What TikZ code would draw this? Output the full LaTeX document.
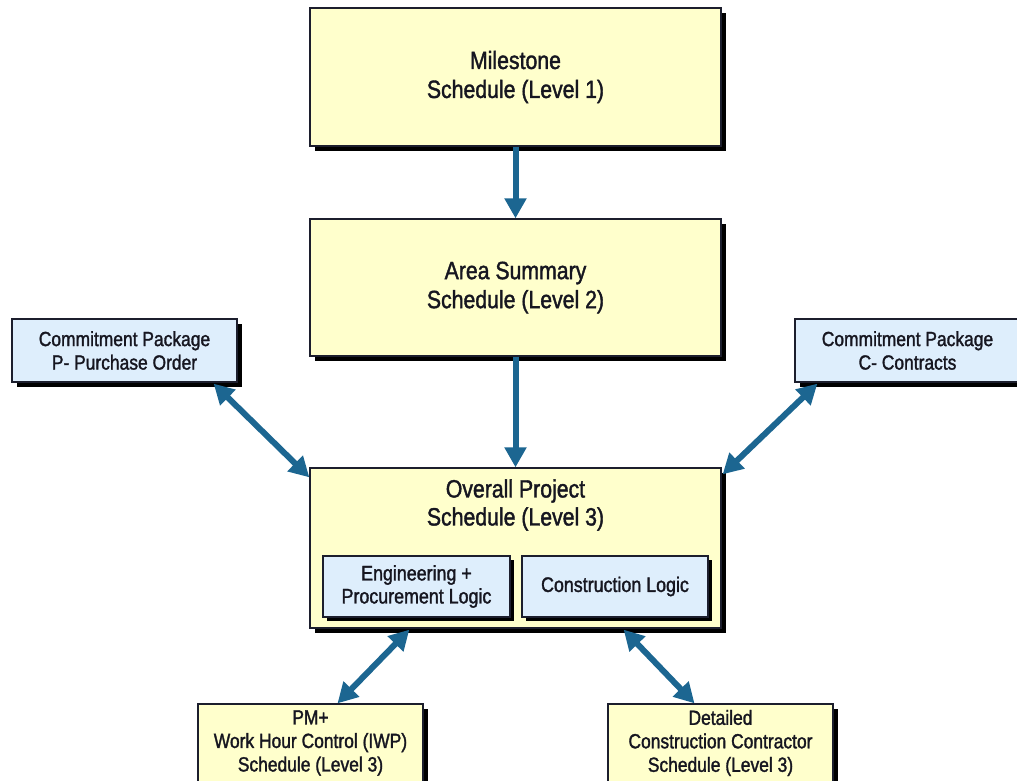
\documentclass[tikz,border=0pt]{standalone}
\usepackage{fontspec}
\setmainfont{Liberation Sans}[FakeStretch=0.85,FakeBold=1.5]
\usetikzlibrary{arrows.meta,calc}

\definecolor{boxyellow}{RGB}{255,255,204}
\definecolor{boxblue}{RGB}{222,238,252}
\definecolor{edgeline}{RGB}{28,30,45}
\definecolor{flowblue}{RGB}{28,102,145}
\definecolor{ink}{RGB}{22,22,32}

\tikzset{
  shadowed/.style={preaction={fill=black,transform canvas={xshift=#1,yshift=-#1}}},
  box/.style={draw=edgeline, line width=1.3pt, align=center, text=ink, inner sep=0pt},
  bigbox/.style={box, shadowed=5pt, fill=boxyellow, minimum width=411pt,
    font=\fontsize{25}{29}\selectfont},
  titletext/.style={align=center, text=ink, inner sep=0pt, font=\fontsize{25}{28}\selectfont},
  logicbox/.style={box, shadowed=4pt, fill=boxblue, minimum width=187pt, minimum height=61pt,
    font=\fontsize{21}{23}\selectfont},
  pkgbox/.style={box, shadowed=5pt, fill=boxblue, minimum width=225pt, minimum height=63pt,
    font=\fontsize{20.5}{23.5}\selectfont},
  lowbox/.style={box, shadowed=5pt, fill=boxyellow, minimum width=225pt, minimum height=78pt,
    font=\fontsize{20.5}{23.5}\selectfont},
  flow/.style={draw=flowblue, line width=6pt, -{Triangle[length=20pt,width=21pt]}},
  twoway/.style={draw=flowblue, line width=6pt,
    {Triangle[length=20pt,width=21pt]}-{Triangle[length=20pt,width=21pt]}}
}

\begin{document}
\begin{tikzpicture}[x=1pt,y=-1pt]
  \useasboundingbox (0,0) rectangle (1017,781);

  % schedule hierarchy
  \node[bigbox, minimum height=138pt] (M) at (515.5,77) {Milestone\\Schedule (Level 1)};
  \node[bigbox, minimum height=137pt] (A) at (515.5,287.5) {Area Summary\\Schedule (Level 2)};
  \node[bigbox, minimum height=160pt] (O) at (515.5,548) {};
  \node[titletext] (Ot) at (515.5,505) {Overall Project\\Schedule (Level 3)};

  % logic boxes inside the level 3 schedule
  \node[logicbox] (E) at (416.5,586.5) {Engineering +\\Procurement Logic};
  \node[logicbox, minimum width=186pt] (CL) at (615,586.5) {Construction Logic};

  % commitment packages
  \node[pkgbox] (P) at (124.5,350.5) {Commitment Package\\P- Purchase Order};
  \node[pkgbox] (C) at (907.5,350.5) {Commitment Package\\C- Contracts};

  % lower level 3 schedules
  \node[lowbox] (PM) at (310.5,743) {PM+\\Work Hour Control (IWP)\\Schedule (Level 3)};
  \node[lowbox] (D) at (720.5,743) {Detailed\\Construction Contractor\\Schedule (Level 3)};

  % connectors
  \draw[flow] (M.south) -- (A.north);
  \draw[flow] (A.south) -- (O.north);
  \draw[twoway] ($(P.south east)+(-24,1)$) -- ($(O.north west)+(0,10)$);
  \draw[twoway] ($(C.south west)+(23,1)$) -- ($(O.north east)+(1,7)$);
  \draw[twoway] ($(PM.north)+(27,0)$) -- ($(O.south west)+(100,1)$);
  \draw[twoway] ($(D.north)+(-26,0)$) -- ($(O.south east)+(-98,1)$);
\end{tikzpicture}
\end{document}
